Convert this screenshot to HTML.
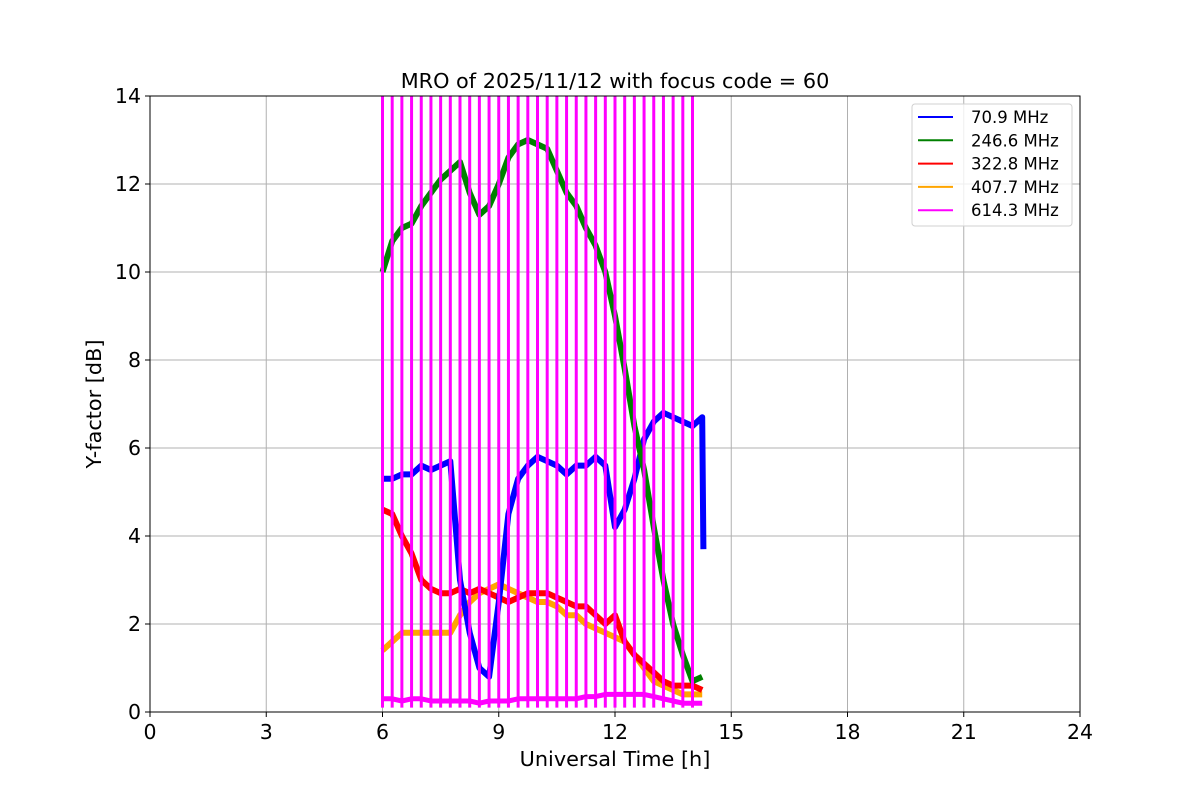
<!DOCTYPE html>
<html><head><meta charset="utf-8"><style>
html,body{margin:0;padding:0;background:#fff;}
svg{display:block;font-family:"DejaVu Sans","Liberation Sans",sans-serif;}
</style></head><body>
<svg id="chart" width="1200" height="800" xmlns="http://www.w3.org/2000/svg">
<rect width="1200" height="800" fill="#fff"/>
<g id="grid"></g>
<g id="series"></g>
<g id="axes"></g>
<text x="615" y="88" text-anchor="middle" font-size="20.8" fill="#000">MRO of 2025/11/12 with focus code = 60</text>
<text x="615" y="766" text-anchor="middle" font-size="20.8" fill="#000">Universal Time [h]</text>
<text transform="translate(101,404) rotate(-90)" text-anchor="middle" font-size="20.8" fill="#000">Y-factor [dB]</text>
<g id="legend"></g>
</svg>
<script>
const xTicks=[0,3,6,9,12,15,18,21,24];
const yTicks=[0,2,4,6,8,10,12,14];
const times=[6,6.25,6.5,6.75,7,7.25,7.5,7.75,8,8.25,8.5,8.75,9,9.25,9.5,9.75,10,10.25,10.5,10.75,11,11.25,11.5,11.75,12,12.25,12.5,12.75,13,13.25,13.5,13.75,14,14.25];
const blue=[5.3,5.3,5.4,5.4,5.6,5.5,5.6,5.7,3.0,1.8,1.0,0.8,2.5,4.5,5.3,5.6,5.8,5.7,5.6,5.4,5.6,5.6,5.8,5.6,4.2,4.6,5.3,6.2,6.6,6.8,6.7,6.6,6.5,6.7];
const green=[10.0,10.7,11.0,11.1,11.5,11.8,12.1,12.3,12.5,11.8,11.3,11.5,12.0,12.6,12.9,13.0,12.9,12.8,12.3,11.8,11.5,11.0,10.6,10.0,9.0,7.8,6.5,5.5,4.2,3.0,2.0,1.3,0.7,0.8];
const red=[4.6,4.5,4.0,3.6,3.0,2.8,2.7,2.7,2.8,2.7,2.8,2.7,2.6,2.5,2.6,2.7,2.7,2.7,2.6,2.5,2.4,2.4,2.2,2.0,2.2,1.6,1.3,1.1,0.9,0.7,0.6,0.6,0.6,0.5];
const orange=[1.4,1.6,1.8,1.8,1.8,1.8,1.8,1.8,2.2,2.5,2.7,2.8,2.9,2.8,2.7,2.6,2.5,2.5,2.4,2.2,2.2,2.0,1.9,1.8,1.7,1.6,1.3,1.0,0.7,0.6,0.5,0.4,0.4,0.4];
const magenta=[0.3,0.3,0.25,0.3,0.3,0.25,0.25,0.25,0.25,0.25,0.2,0.25,0.25,0.25,0.3,0.3,0.3,0.3,0.3,0.3,0.3,0.35,0.35,0.4,0.4,0.4,0.4,0.4,0.35,0.3,0.25,0.2,0.2,0.2];
const spikeTimes=[];for(let k=0;k<=32;k++)spikeTimes.push(6+0.25*k);
const spikeTop=14;
const blueEnd=3.7;
const labels=[' 70.9 MHz','246.6 MHz','322.8 MHz','407.7 MHz','614.3 MHz'];
const colors=['#0000ff','#008000','#ff0000','#ffa500','#ff00ff'];

const L=150,R=1080,T=96,B=712;
const xs=t=>L+(R-L)*t/24;
const ys=v=>B-(B-T)*v/14;
const NS='http://www.w3.org/2000/svg';
function mk(tag,attrs,parent){const e=document.createElementNS(NS,tag);for(const k in attrs)e.setAttribute(k,attrs[k]);parent.appendChild(e);return e;}
const grid=document.getElementById('grid'),axes=document.getElementById('axes'),ser=document.getElementById('series'),leg=document.getElementById('legend');
xTicks.forEach(t=>{
 const g=mk('line',{x1:xs(t),x2:xs(t),y1:T,y2:B,stroke:'#b0b0b0','stroke-width':1},grid);
 
 
 mk('line',{x1:xs(t),x2:xs(t),y1:B,y2:B+5,stroke:'#000'},axes);
 const tx=mk('text',{x:xs(t),y:B+27,'text-anchor':'middle','font-size':20.5},axes);tx.textContent=t;
 
 
});
yTicks.forEach(v=>{
 const g=mk('line',{x1:L,x2:R,y1:ys(v),y2:ys(v),stroke:'#b0b0b0','stroke-width':1},grid);
 
 
 mk('line',{x1:L-5,x2:L,y1:ys(v),y2:ys(v),stroke:'#000'},axes);
 const tx=mk('text',{x:L-9,y:ys(v)+7,'text-anchor':'end','font-size':20.5},axes);tx.textContent=v;
 
 
});
const frame=mk('rect',{x:L,y:T,width:R-L,height:B-T,fill:'none',stroke:'#000','stroke-width':1},axes);



function line(vals,col,w,name,extra){
 let pts=times.map((t,i)=>xs(t).toFixed(1)+','+ys(vals[i]).toFixed(1));
 if(extra)pts=pts.concat(extra);
 const p=mk('polyline',{points:pts.join(' '),fill:'none',stroke:col,'stroke-width':w,'stroke-linejoin':'round'},ser);
 
 
}
line(orange,colors[3],6,'series-407-7-mhz');
line(red,colors[2],6,'series-322-8-mhz');
line(blue,colors[0],6,'series-70-9-mhz',[xs(14.28).toFixed(1)+','+ys(blueEnd).toFixed(1)]);
line(green,colors[1],6,'series-246-6-mhz');
line(magenta,colors[4],5,'series-614-3-mhz');
spikeTimes.forEach(t=>{
 const s=mk('line',{x1:xs(t),x2:xs(t),y1:ys(0.1),y2:ys(spikeTop),stroke:colors[4],'stroke-width':3},ser);
 
 
});

const lb=mk('rect',{x:912,y:104,width:160,height:122,rx:3,fill:'#fff','fill-opacity':0.8,stroke:'#d0d0d0'},leg);


labels.forEach((lab,i)=>{
 const y=117+i*23.3;
 const ln=mk('line',{x1:918,x2:953,y1:y,y2:y,stroke:colors[i],'stroke-width':2},leg);
 
 
 const tx=mk('text',{x:971,y:y+6,'text-anchor':'start','font-size':16.5,'xml:space':'preserve'},leg);tx.textContent=lab;
 
 
});
</script>
</body></html>
